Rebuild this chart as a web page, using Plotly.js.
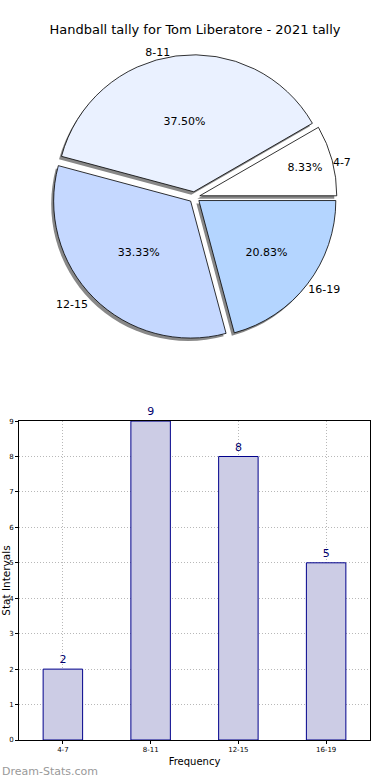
<!DOCTYPE html>
<html><head><meta charset="utf-8">
<script src="https://cdn.plot.ly/plotly-3.0.1.min.js"></script>
<style>html,body{margin:0;padding:0;background:#fff}#chart{width:390px;height:780px}</style>
</head><body><div id="chart"></div>
<script>
var categories = ['4-7', '8-11', '12-15', '16-19'];
var counts = [2, 9, 8, 5];
var sliceColors = ['#ffffff', '#eaf1ff', '#c5d8ff', '#b4d5ff'];
var titleText = 'Handball tally for Tom Liberatore - 2021 tally';

var F = 'DejaVu Sans, sans-serif';
var pieX = [0.03, 0.97], pieY = [0.541, 0.926];
var shadowPie = {
  type: 'pie', labels: categories, values: counts, sort: false,
  direction: 'counterclockwise', rotation: 60,
  pull: [0.04, 0.04, 0.04, 0.04],
  marker: {colors: ['#888', '#888', '#888', '#888'], line: {width: 0}},
  domain: {x: [pieX[0] - 0.007, pieX[1] - 0.007], y: [pieY[0] - 0.004, pieY[1] - 0.004]},
  textposition: 'outside', texttemplate: '%{label}',
  textfont: {family: F, size: 11, color: '#000'},
  hoverinfo: 'skip', showlegend: false
};
var mainPie = {
  type: 'pie', labels: categories, values: counts, sort: false,
  direction: 'counterclockwise', rotation: 60,
  pull: [0.04, 0.04, 0.04, 0.04],
  marker: {colors: sliceColors, line: {color: '#000', width: 0.8}},
  domain: {x: pieX, y: pieY},
  textposition: 'inside', texttemplate: '%{percent:.2%}',
  insidetextorientation: 'horizontal',
  textfont: {family: F, size: 11, color: '#000'},
  showlegend: false
};
var bars = {
  type: 'bar', x: categories, y: counts, width: 0.45,
  marker: {color: '#ccccE5', line: {color: '#00008b', width: 1}},
  text: counts.map(String), textposition: 'outside',
  textfont: {family: F, size: 11, color: '#00006e'},
  cliponaxis: false, xaxis: 'x', yaxis: 'y', showlegend: false
};
var layout = {
  width: 390, height: 780,
  margin: {l: 19, r: 20, t: 0, b: 40},
  paper_bgcolor: '#fff', plot_bgcolor: '#fff',
  font: {family: F, size: 11, color: '#000'},
  title: {text: titleText, font: {family: F, size: 13, color: '#000'}, x: 0.5, xanchor: 'center', y: 0.962, yanchor: 'middle'},
  xaxis: {
    domain: [0, 1], anchor: 'y',
    showgrid: true, gridcolor: '#b8b8b8', griddash: '1px,2px', gridwidth: 1,
    tickfont: {family: F, size: 7}, ticks: 'outside', ticklen: 3, tickcolor: '#000',
    showline: true, linecolor: '#000', linewidth: 1, mirror: true,
    title: {text: 'Frequency', font: {family: F, size: 10}, standoff: 4}
  },
  yaxis: {
    domain: [0, 0.431], anchor: 'x', range: [0, 9], dtick: 1,
    showgrid: true, gridcolor: '#b8b8b8', griddash: '1px,2px', gridwidth: 1,
    tickfont: {family: F, size: 7}, ticks: 'outside', ticklen: 3, tickcolor: '#000',
    showline: true, linecolor: '#000', linewidth: 1, mirror: true, zeroline: false,
    title: {text: 'Stat Intervals', font: {family: F, size: 10.5}, standoff: 0}
  },
  annotations: [{
    text: 'Dream-Stats.com', xref: 'paper', yref: 'paper', x: -0.054, y: -0.031,
    xanchor: 'left', yanchor: 'top', showarrow: false,
    font: {family: F, size: 11, color: '#999'}
  }]
};
Plotly.newPlot('chart', [shadowPie, mainPie, bars], layout, {displayModeBar: false, staticPlot: true});
</script></body></html>
